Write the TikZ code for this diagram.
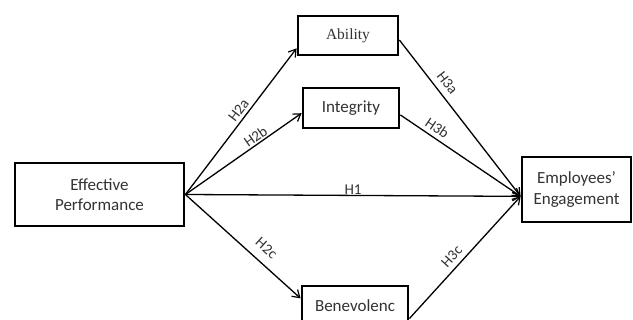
\documentclass[tikz,border=0pt]{standalone}
\usepackage{fontspec}
\setmainfont{Carlito}
\newfontfamily\serifbox{Liberation Serif}
\usetikzlibrary{arrows.meta}
\definecolor{txt}{HTML}{333333}
\tikzset{
  box/.style={draw=black, line width=2.8pt, fill=white, text=txt, align=center, inner sep=0pt, font=\fontsize{17}{20.5}\selectfont},
  conn/.style={line width=1.3pt, -{Straight Barb[length=7pt,width=9pt,line width=1.2pt]}},
  hyp/.style={sloped, above, text=txt, font=\fontsize{15}{17}\selectfont, inner sep=2pt}
}
\begin{document}
\begin{tikzpicture}[x=1pt,y=-1pt]
\useasboundingbox[fill=white] (0,0) rectangle (633,320);
\node[box, minimum width=169pt, minimum height=63pt] (ep) at (99.5,194.5) {Effective\\Performance};
\node[box, minimum width=100pt, minimum height=39pt, font=\serifbox\fontsize{15.5}{18}\selectfont] (ab) at (348,35.5) {Ability};
\node[box, minimum width=96pt, minimum height=40pt] (in) at (351,108) {Integrity};
\node[box, minimum width=106pt, minimum height=40pt] (be) at (355,306) {Benevolenc};
\node[box, minimum width=109pt, minimum height=65pt] (en) at (576.5,189.5) {Employees'\\Engagement};

\draw[conn] (ep.east) -- node[hyp, pos=0.54, inner sep=3pt] (l2a) {H2a} (ab.194);
\draw[conn] (ep.east) -- node[hyp, pos=0.64, inner sep=1.5pt] (l2b) {H2b} (in.186);
\draw[conn] (ep.east) -- node[hyp, pos=0.5, inner sep=0.5pt] (l1) {H1} (en.187);
\draw[conn] (ep.east) -- node[hyp, pos=0.62, inner sep=9pt] (l2c) {H2c} (be.172);
\draw[conn] (ab.355) -- node[hyp, pos=0.32, inner sep=6pt] (l3a) {H3a} (en.187);
\draw[conn] (in.352) -- node[hyp, pos=0.26, inner sep=4pt] (l3b) {H3b} (en.187);
\draw[conn] (be.347) -- node[hyp, pos=0.45, inner sep=5pt] (l3c) {H3c} (en.187);
\end{tikzpicture}
\end{document}
